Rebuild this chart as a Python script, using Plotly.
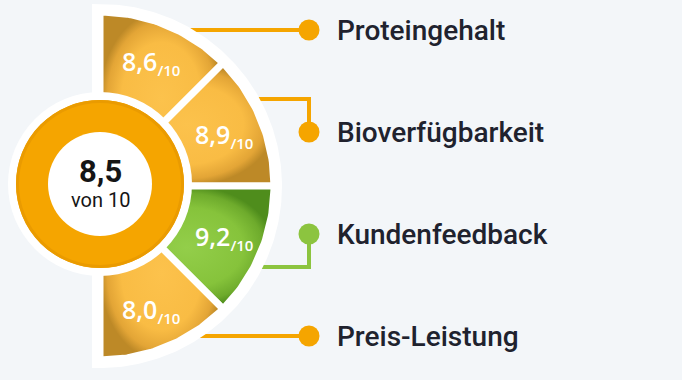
import math
import plotly.graph_objects as go

# ---------------- data ----------------
categories = ["Proteingehalt", "Bioverfügbarkeit", "Kundenfeedback", "Preis-Leistung"]
scores = [8.6, 8.9, 9.2, 8.0]
overall_score = 8.5
max_score = 10

# ---------------- layout constants ----------------
W, H = 682, 380
BG = "#F3F6F9"
CX, CY = 100, 186          # centre of the half-disc
R_OUT = 174                # wedge radius
R_BORDER = 182             # white border radius
DONUT_CY = 184
R_DONUT_BORDER = 92
R_DONUT_OUT = 84
R_DONUT_IN = 52
LABEL_R = 134
ROW_TOP, ROW_STEP = 30, 102
DOT_X, TEXT_X = 309, 335
INNER_OFFSET = 33

GOLD = "#F5A500"
GREEN = "#8CC43F"
GOLD_GRAD = [[0, "#FCC24C"], [0.65, "#F9BC44"], [0.88, "#E3A536"], [1, "#BD8927"]]
GREEN_GRAD = [[0, "#93CE4A"], [0.65, "#86C33B"], [0.88, "#6EAB2C"], [1, "#4F8D1C"]]


def fmt(v):
    return f"{v:.1f}".replace(".", ",")


def pt(r, deg, cy=CY):
    a = math.radians(deg)
    return CX + r * math.cos(a), cy - r * math.sin(a)


n = len(categories)
span = 180.0 / n
best = scores.index(max(scores))

fig = go.Figure()

# connectors (drawn first so the disc hides their inner ends)
row_y = [ROW_TOP + i * ROW_STEP for i in range(n)]
for i in range(n):
    col = GREEN if i == best else GOLD
    if i in (0, n - 1):
        cy_ = row_y[i]
        xs, ys = [CX, DOT_X], [cy_, cy_]
    else:
        sign = -1 if row_y[i] < CY else 1
        cy_ = row_y[i] + sign * INNER_OFFSET
        xs, ys = [CX, DOT_X, DOT_X], [cy_, cy_, row_y[i]]
    fig.add_trace(go.Scatter(x=xs, y=ys, mode="lines",
                             line=dict(color=col, width=4),
                             hoverinfo="skip", showlegend=False))

# white half-disc border
bx, by = [CX - 8], [CY - R_BORDER]
for k in range(181):
    x, y = pt(R_BORDER, 90 - k)
    bx.append(x)
    by.append(y)
bx.append(CX - 8)
by.append(CY + R_BORDER)
fig.add_trace(go.Scatter(x=bx, y=by, mode="lines", fill="toself",
                         fillcolor="white", line=dict(width=0, color="white"),
                         hoverinfo="skip", showlegend=False))

# wedges
for i, s in enumerate(scores):
    a0 = 90 - i * span
    a1 = a0 - span
    xs, ys = [CX], [CY]
    steps = 40
    for k in range(steps + 1):
        x, y = pt(R_OUT, a0 + (a1 - a0) * k / steps)
        xs.append(x)
        ys.append(y)
    xs.append(CX)
    ys.append(CY)
    grad = GREEN_GRAD if i == best else GOLD_GRAD
    fig.add_trace(go.Scatter(x=xs, y=ys, mode="lines", fill="toself",
                             fillgradient=dict(type="radial", colorscale=grad),
                             line=dict(color="white", width=7),
                             hoverinfo="skip", showlegend=False))
    lx, ly = pt(LABEL_R, (a0 + a1) / 2)
    fig.add_annotation(x=lx, y=ly, xref="x", yref="y", showarrow=False,
                       xanchor="center", yanchor="middle",
                       text=f"{fmt(s)}<sub><span style='font-size:15px'>/{max_score}</span></sub>",
                       font=dict(family="Open Sans", size=25, color="white", weight=600))

# dots
fig.add_trace(go.Scatter(x=[DOT_X] * n, y=row_y, mode="markers",
                         marker=dict(size=21, color=[GREEN if i == best else GOLD for i in range(n)],
                                     line=dict(width=0)),
                         hoverinfo="skip", showlegend=False))

# legend texts
for i, c in enumerate(categories):
    fig.add_annotation(x=TEXT_X, y=row_y[i], xref="x", yref="y", showarrow=False,
                       xanchor="left", yanchor="middle", text=c,
                       font=dict(family="Roboto", size=28, color="#20222E", weight=500))

# donut
for r, col in [(R_DONUT_BORDER, "white"), (R_DONUT_OUT, GOLD), (R_DONUT_IN, "white")]:
    fig.add_shape(type="circle", xref="x", yref="y",
                  x0=CX - r, x1=CX + r, y0=DONUT_CY - r, y1=DONUT_CY + r,
                  fillcolor=col, line=dict(width=0), layer="above")
fig.add_shape(type="circle", xref="x", yref="y",
              x0=CX - R_DONUT_OUT + 1.5, x1=CX + R_DONUT_OUT - 1.5,
              y0=DONUT_CY - R_DONUT_OUT + 1.5, y1=DONUT_CY + R_DONUT_OUT - 1.5,
              fillcolor="rgba(0,0,0,0)", line=dict(width=3, color="#EA9B00"), layer="above")

fig.add_annotation(x=CX, y=DONUT_CY - 13, xref="x", yref="y", showarrow=False,
                   text=f"<b>{fmt(overall_score)}</b>",
                   font=dict(family="Roboto", size=31, color="#151515"))
fig.add_annotation(x=CX, y=DONUT_CY + 16, xref="x", yref="y", showarrow=False,
                   text=f"von {max_score}",
                   font=dict(family="Roboto", size=20, color="#151515"))

fig.update_layout(
    width=W, height=H, margin=dict(l=0, r=0, t=0, b=0),
    paper_bgcolor=BG, plot_bgcolor=BG,
    xaxis=dict(range=[0, W], visible=False, fixedrange=True),
    yaxis=dict(range=[H, 0], visible=False, fixedrange=True),
    showlegend=False,
)

fig.write_html("out.html", config={"displayModeBar": False},
               post_script="document.body.style.margin='0';document.body.style.padding='0';")
